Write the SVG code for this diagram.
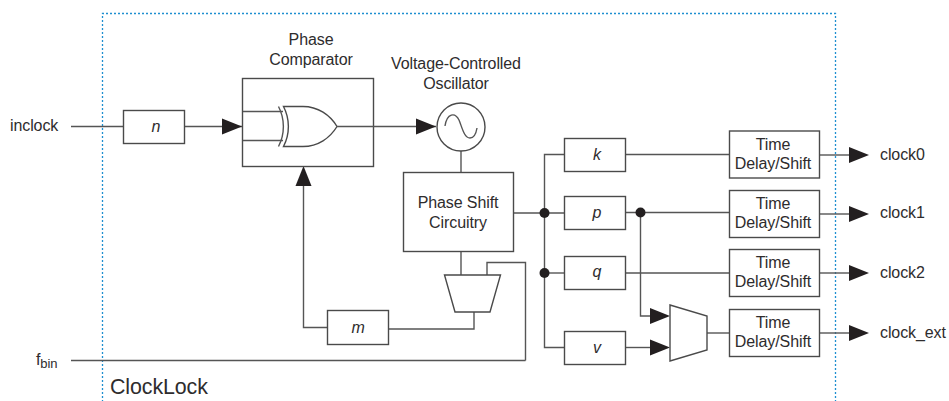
<svg xmlns="http://www.w3.org/2000/svg" width="949" height="401" viewBox="0 0 949 401">
<style>
text{font-family:"Liberation Sans",Arial,sans-serif;font-size:16px;fill:#2e2c2d;letter-spacing:-.1px}
.c{text-anchor:middle}
.i{font-style:italic;font-size:16px}
.b{fill:#fff;stroke:#4a4a4a;stroke-width:1.4}
.l{fill:none;stroke:#555;stroke-width:1.4}
.a{fill:#231f20;stroke:none}
</style>
<defs>
<polygon id="ar" class="a" points="-20,-8 0,0 -20,8"/>
</defs>
<rect width="949" height="401" fill="#fff"/>
<path id="boundary" d="M102.500 402V13.500H835.500V402" fill="none" stroke="#1f8fd0" stroke-width="1.300" stroke-dasharray="2 2"/>
<text x="110" y="394" style="font-size:21.400px">ClockLock</text>
<g id="connectors">
<path class="l" d="M71 126.500H242"/>
<path class="l" d="M337 126.500H436"/>
<path class="l" d="M461 151V172"/>
<path class="l" d="M461 251V275"/>
<path class="l" d="M487 275V262.500H525.500V360.500"/>
<path class="l" d="M71 360.500H525.500" stroke-width="1.600"/>
<path class="l" d="M474 312V329H388"/>
<path class="l" d="M327 327.500H303.500V186"/>
<path class="l" d="M513 213H564"/>
<path class="l" d="M564 154.500H544.500V347.500H564"/>
<path class="l" d="M544.500 273H564"/>
<path class="l" d="M626 154.500H729"/>
<path class="l" d="M626 212.500H729"/>
<path class="l" d="M626 273H729"/>
<path class="l" d="M640.500 212.500V316H650"/>
<path class="l" d="M626 347.500H650"/>
<path class="l" d="M707 333H729"/>
<path class="l" d="M819 155H850"/>
<path class="l" d="M819 214H850"/>
<path class="l" d="M819 273H850"/>
<path class="l" d="M819 333H850"/>
<circle class="a" cx="544.500" cy="213" r="5"/>
<circle class="a" cx="544.500" cy="273" r="5"/>
<circle class="a" cx="640.500" cy="212.500" r="5"/>
<use href="#ar" x="242" y="126.500"/>
<use href="#ar" x="436" y="126.500"/>
<use href="#ar" transform="translate(303.500 166) rotate(-90)"/>
<use href="#ar" x="670" y="316"/>
<use href="#ar" x="670" y="347.500"/>
<use href="#ar" x="869" y="155"/>
<use href="#ar" x="869" y="214"/>
<use href="#ar" x="869" y="273"/>
<use href="#ar" x="869" y="333"/>
</g>
<text x="10" y="131">inclock</text>
<text x="36" y="365">f<tspan dy="3" style="font-size:13px">bin</tspan></text>
<g id="n"><rect class="b" x="123.500" y="110.500" width="61" height="33"/><text class="c i" x="156" y="132">n</text></g>
<g id="comparator">
<rect class="b" x="242.500" y="78.500" width="131" height="88"/>
<path class="l" d="M243 111.500H283M243 140.500H283"/>
<path d="M283.500 106.500H303C318 106.500 330 115 337 126.500C330 138 318 146.500 303 146.500H283.500C290 134 290 119 283.500 106.500Z" fill="#fff" stroke="#4a4a4a" stroke-width="1.400"/>
<path class="l" d="M278.500 106.500C285 119 285 134 278.500 146.500"/>
<path class="l" d="M337 126.500H374"/>
<text class="c" x="311" y="45">Phase</text>
<text class="c" x="311" y="65">Comparator</text>
</g>
<g id="vco">
<circle class="b" cx="461" cy="127" r="24"/>
<path class="l" d="M445 126C447 113 455 112 459 120C462 127 464 138 470 138C474 138 476 134 477 128"/>
<text class="c" x="456" y="69">Voltage-Controlled</text>
<text class="c" x="456" y="89">Oscillator</text>
</g>
<g id="phaseshift"><rect class="b" x="403.500" y="172.500" width="110" height="79"/><text class="c" x="458" y="208">Phase Shift</text><text class="c" x="458" y="228">Circuitry</text></g>
<g id="mux1"><polygon class="b" points="444.500,275 500.500,275 490,312 455,312"/></g>
<g id="m"><rect class="b" x="327.500" y="310.500" width="61" height="34"/><text class="c i" x="358" y="333">m</text></g>
<g id="k"><rect class="b" x="564.500" y="138.500" width="61" height="33"/><text class="c i" x="597" y="160">k</text></g>
<g id="p"><rect class="b" x="564.500" y="196.500" width="61" height="33"/><text class="c i" x="597" y="218">p</text></g>
<g id="q"><rect class="b" x="564.500" y="256.500" width="61" height="33"/><text class="c i" x="597" y="277">q</text></g>
<g id="v"><rect class="b" x="564.500" y="331.500" width="61" height="33"/><text class="c i" x="597" y="353">v</text></g>
<g id="mux2"><polygon class="b" points="670,305 707,316 707,350 670,361"/></g>
<g id="td0"><rect class="b" x="729.500" y="131" width="90" height="47"/><text class="c" x="773" y="150">Time</text><text class="c" x="773" y="169">Delay/Shift</text></g>
<g id="td1"><rect class="b" x="729.500" y="190.500" width="90" height="47"/><text class="c" x="773" y="209">Time</text><text class="c" x="773" y="228">Delay/Shift</text></g>
<g id="td2"><rect class="b" x="729.500" y="249.500" width="90" height="47"/><text class="c" x="773" y="268">Time</text><text class="c" x="773" y="287">Delay/Shift</text></g>
<g id="td3"><rect class="b" x="729.500" y="309.500" width="90" height="47"/><text class="c" x="773" y="328">Time</text><text class="c" x="773" y="347">Delay/Shift</text></g>
<text x="880" y="160">clock0</text>
<text x="880" y="218">clock1</text>
<text x="880" y="278">clock2</text>
<text x="880" y="338">clock_ext</text>
</svg>
